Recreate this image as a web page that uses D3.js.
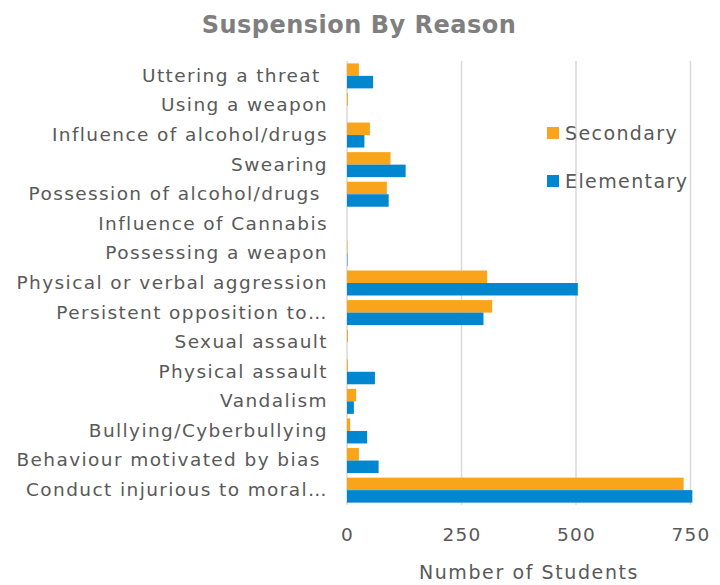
<!DOCTYPE html>
<html>
<head>
<meta charset="utf-8">
<script src="https://cdn.jsdelivr.net/npm/d3@7/dist/d3.min.js"></script>
<style>
  html, body { margin: 0; padding: 0; background: #fff; }
  svg text { font-family: "DejaVu Sans", sans-serif; }
</style>
</head>
<body>
<svg id="chart" width="720" height="585"></svg>
<script>
const categories = [
  "Uttering a threat ",
  "Using a weapon",
  "Influence of alcohol/drugs",
  "Swearing",
  "Possession of alcohol/drugs ",
  "Influence of Cannabis",
  "Possessing a weapon",
  "Physical or verbal aggression",
  "Persistent opposition to…",
  "Sexual assault",
  "Physical assault",
  "Vandalism",
  "Bullying/Cyberbullying",
  "Behaviour motivated by bias ",
  "Conduct injurious to moral…"
];
const secondary  = [26, 2, 50, 95, 87, 0, 1, 306, 317, 2, 2, 20, 7, 26, 735];
const elementary = [57, 0, 38, 128, 91, 0, 1, 504, 298, 0, 61, 15, 44, 69, 754];
const seriesNames = ["Secondary", "Elementary"];
const seriesColors = ["#F9A51B", "#0187CF"];
const xTicks = [0, 250, 500, 750];

const svg = d3.select("#chart");
const margin = { top: 61, left: 347, right: 30, bottom: 80 };
const plotRight = 690.5;
const plotBottom = 505;

const x = d3.scaleLinear().domain([0, 750]).range([margin.left, plotRight]);
const y = d3.scaleBand().domain(categories).range([margin.top, plotBottom]).paddingInner(0.155).paddingOuter(0.08);
const sub = d3.scaleBand().domain(seriesNames).range([0, y.bandwidth()]);

// title
svg.append("text")
  .attr("x", 359).attr("y", 33)
  .attr("text-anchor", "middle")
  .attr("font-size", 24).attr("font-weight", "bold")
  .attr("letter-spacing", 0.5)
  .attr("fill", "#7F7F7F")
  .text("Suspension By Reason");

// gridlines
svg.append("g").selectAll("line").data(xTicks).join("line")
  .attr("x1", d => x(d)).attr("x2", d => x(d))
  .attr("y1", margin.top).attr("y2", plotBottom)
  .attr("stroke", "#D9D9D9").attr("stroke-width", 1.5);

// bars
const data = [secondary, elementary];
data.forEach((vals, si) => {
  svg.append("g").selectAll("rect").data(vals).join("rect")
    .attr("x", x(0))
    .attr("y", (d, i) => y(categories[i]) + sub(seriesNames[si]))
    .attr("width", d => x(d) - x(0))
    .attr("height", sub.bandwidth())
    .attr("fill", seriesColors[si]);
});

// y axis labels
const yAxis = d3.axisLeft(y).tickSize(0).tickPadding(19);
const yg = svg.append("g").attr("transform", `translate(${margin.left},0)`).call(yAxis);
yg.select(".domain").remove();
yg.selectAll("text")
  .attr("font-family", "DejaVu Sans, sans-serif")
  .attr("font-size", 18.5).attr("fill", "#595959")
  .attr("letter-spacing", 1.4)
  .style("white-space", "pre");

// x axis
const xAxis = d3.axisBottom(x).tickValues(xTicks).tickSize(0).tickPadding(23);
const xg = svg.append("g").attr("transform", `translate(0,${plotBottom})`).call(xAxis);
xg.select(".domain").remove();
xg.selectAll("text")
  .attr("font-family", "DejaVu Sans, sans-serif")
  .attr("font-size", 18.5).attr("fill", "#595959")
  .attr("letter-spacing", 1.2);

// axis title
svg.append("text")
  .attr("x", 529).attr("y", 579)
  .attr("text-anchor", "middle")
  .attr("font-size", 19).attr("fill", "#595959")
  .attr("letter-spacing", 1.6)
  .text("Number of Students");

// legend
const legendY = [133, 181];
seriesNames.forEach((name, i) => {
  svg.append("rect")
    .attr("x", 547).attr("y", legendY[i] - 6)
    .attr("width", 12).attr("height", 12)
    .attr("fill", seriesColors[i]);
  svg.append("text")
    .attr("x", 565).attr("y", legendY[i])
    .attr("dy", "0.35em")
    .attr("font-size", 19).attr("fill", "#595959")
    .attr("letter-spacing", 1.4)
    .text(name);
});
</script>
</body>
</html>
